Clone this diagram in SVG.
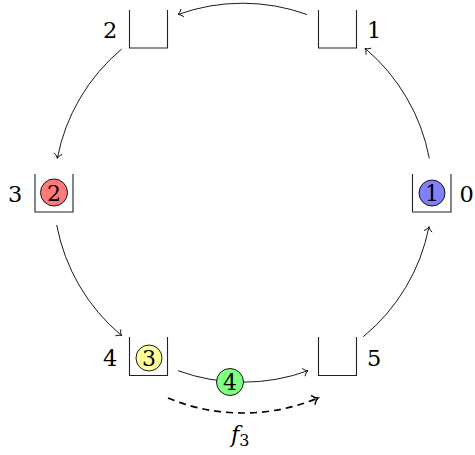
<svg xmlns="http://www.w3.org/2000/svg" width="475" height="455" viewBox="0 0 475 455">
<defs>
<style>
.bin{fill:none;stroke:#222;stroke-width:1.1}
.ball{stroke:#000;stroke-width:0.9}
.edge{fill:none;stroke:#000;stroke-width:0.9;marker-end:url(#to)}
.dash{fill:none;stroke:#000;stroke-width:1.7;stroke-dasharray:7 5;marker-end:url(#tob)}
text{font-family:"DejaVu Serif",serif;font-size:22.5px;fill:#000}
.n{font-size:22px;text-anchor:middle}
</style>
<marker id="to" markerUnits="userSpaceOnUse" viewBox="-7 -6 9 12" markerWidth="9" markerHeight="12" refX="0" refY="0" orient="auto" overflow="visible">
<path d="M -4.5 -3.8 C -3 -1.6 -1.2 -0.4 0 0 C -1.2 0.4 -3 1.6 -4.5 3.8" fill="none" stroke="#000" stroke-width="0.9" stroke-linecap="round"/>
</marker>
<marker id="tob" markerUnits="userSpaceOnUse" viewBox="-8 -7 10 14" markerWidth="10" markerHeight="14" refX="0" refY="0" orient="auto" overflow="visible">
<path d="M -5 -4.5 C -3.4 -1.8 -1.4 -0.5 0 0 C -1.4 0.5 -3.4 1.8 -5 4.5" fill="none" stroke="#000" stroke-width="1.6" stroke-linecap="round"/>
</marker>
</defs>

<g id="connectors">
<path class="edge" d="M 429.3 158.3 A 190 190 0 0 0 365 48.3"/>
<path class="edge" d="M 307 14.5 A 190 190 0 0 0 178 14.5"/>
<path class="edge" d="M 121.7 49 A 190 190 0 0 0 57.3 158.3"/>
<path class="edge" d="M 56.7 225 A 190 190 0 0 0 121.7 335.7"/>
<path class="edge" d="M 178 370.7 A 190 190 0 0 0 308 370.7"/>
<path class="edge" d="M 363.3 336.7 A 190 190 0 0 0 429 226.7"/>
<path class="dash" d="M 168 398 A 195 195 0 0 0 318 398"/>
</g>

<g id="bin0">
<path class="bin" d="M 412.5 174 V 212 H 451 V 174"/>
<circle class="ball" cx="432" cy="193" r="13" fill="#8080ff"/>
<text class="n" x="432" y="201">1</text>
<text x="459.5" y="201.5">0</text>
</g>
<g id="bin1">
<path class="bin" d="M 318.5 10 V 48 H 356.5 V 10"/>
<text x="367" y="38">1</text>
</g>
<g id="bin2">
<path class="bin" d="M 129.5 10 V 48 H 167.5 V 10"/>
<text x="103" y="38">2</text>
</g>
<g id="bin3">
<path class="bin" d="M 35 174 V 212 H 73 V 174"/>
<circle class="ball" cx="54" cy="192.5" r="13.5" fill="#ff7b7b"/>
<text class="n" x="54" y="200.5">2</text>
<text x="8" y="201.5">3</text>
</g>
<g id="bin4">
<path class="bin" d="M 129.5 337 V 375.5 H 167.5 V 337"/>
<circle class="ball" cx="149" cy="358" r="13" fill="#ffff99"/>
<text class="n" x="149" y="366">3</text>
<text x="103" y="365.5">4</text>
</g>
<g id="bin5">
<path class="bin" d="M 318.5 337 V 375.5 H 356.5 V 337"/>
<text x="367" y="365.5">5</text>
</g>
<g id="ball4">
<circle class="ball" cx="230" cy="382" r="13.5" fill="#80ff80"/>
<text class="n" x="230" y="390">4</text>
</g>
<g id="flabel">
<text x="231" y="442" font-style="italic">f<tspan font-style="normal" font-size="16" dy="4">3</tspan></text>
</g>
</svg>
